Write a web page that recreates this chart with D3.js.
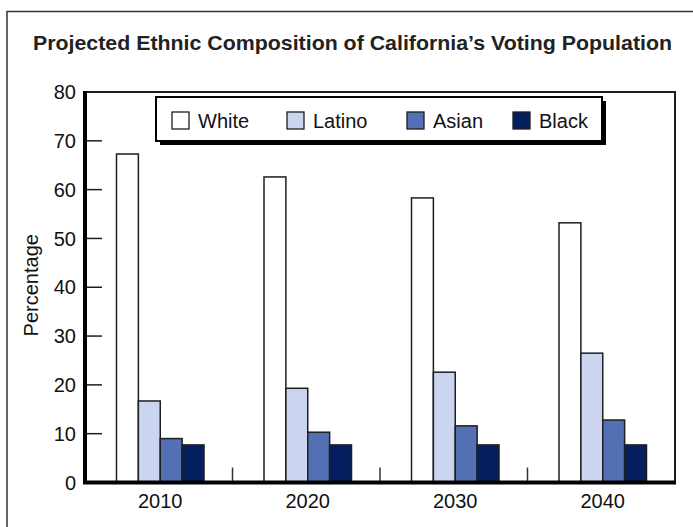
<!DOCTYPE html>
<html>
<head>
<meta charset="utf-8">
<script src="https://cdn.jsdelivr.net/npm/d3@7"></script>
<style>
  body { margin: 0; background: #fff; }
  svg { display: block; font-family: "Liberation Sans", Arial, Helvetica, sans-serif; }
</style>
</head>
<body>
<div id="chart"></div>
<script>
"use strict";

// DATA
const years = ["2010", "2020", "2030", "2040"];
const groups = ["White", "Latino", "Asian", "Black"];
const white = [67.3, 62.6, 58.3, 53.2];
const latino = [16.7, 19.3, 22.6, 26.5];
const asian = [9.0, 10.3, 11.6, 12.8];
const black = [7.7, 7.7, 7.7, 7.7];
const yTicks = [0, 10, 20, 30, 40, 50, 60, 70, 80];

const groupColors = ["#ffffff", "#cbd5f0", "#5470b4", "#031f5d"];
const seriesValues = [white, latino, asian, black];

const width = 693, height = 527;
const plot = { left: 85, right: 675, top: 92, bottom: 482.5 };
const ink = "#1e1e1e";
const fontSize = "20px";

const svg = d3.select("#chart").append("svg")
	.attr("width", width)
	.attr("height", height);

// outer frame (only top + left visible)
svg.append("path")
	.attr("d", `M7,${height} V11.5 H${width}`)
	.attr("fill", "none")
	.attr("stroke", "#333")
	.attr("stroke-width", 1.5);

// title
svg.append("text")
	.attr("x", 33)
	.attr("y", 50)
	.attr("textLength", 639)
	.attr("lengthAdjust", "spacingAndGlyphs")
	.style("font-size", "20.5px")
	.style("font-weight", "bold")
	.attr("fill", "#222")
	.text("Projected Ethnic Composition of California\u2019s Voting Population");

// scales
const x0 = d3.scaleBand().domain(years).range([plot.left, plot.right]).padding(0);
const x1 = d3.scaleBand().domain(groups).range([31.5, 31.5 + 87.5]).padding(0);
const y = d3.scaleLinear().domain([0, 80]).range([plot.bottom, plot.top]);

// plot frame top + right
svg.append("path")
	.attr("d", `M${plot.left},${plot.top} H${plot.right} V${plot.bottom}`)
	.attr("fill", "none")
	.attr("stroke", ink)
	.attr("stroke-width", 2);

// y ticks (inward) + labels
const yAxis = svg.append("g");
yAxis.selectAll("line.tick")
	.data(yTicks.filter((d) => d > 0 && d < 80))
	.enter().append("line")
	.attr("class", "tick")
	.attr("x1", plot.left)
	.attr("x2", plot.left + 17)
	.attr("y1", (d) => y(d))
	.attr("y2", (d) => y(d))
	.attr("stroke", ink)
	.attr("stroke-width", 1.5);

yAxis.selectAll("text")
	.data(yTicks)
	.enter().append("text")
	.attr("x", plot.left - 9)
	.attr("y", (d) => y(d))
	.attr("dy", "0.36em")
	.attr("text-anchor", "end")
	.style("font-size", fontSize)
	.attr("fill", "#111")
	.text((d) => d);

// y label
svg.append("text")
	.attr("transform", `translate(38,${(plot.top + plot.bottom) / 2 - 2}) rotate(-90)`)
	.attr("text-anchor", "middle")
	.style("font-size", fontSize)
	.attr("fill", "#111")
	.text("Percentage");

// category separators
svg.selectAll("line.sep")
	.data(years.slice(1))
	.enter().append("line")
	.attr("class", "sep")
	.attr("x1", (d) => x0(d))
	.attr("x2", (d) => x0(d))
	.attr("y1", plot.bottom - 15)
	.attr("y2", plot.bottom)
	.attr("stroke", "#333")
	.attr("stroke-width", 1.5);

// bars
const yearG = svg.selectAll("g.year")
	.data(years)
	.enter().append("g")
	.attr("class", "year")
	.attr("transform", (d) => `translate(${x0(d)},0)`);

yearG.selectAll("rect")
	.data((yr, yi) => groups.map((g, gi) => ({ group: g, gi: gi, value: seriesValues[gi][yi] })))
	.enter().append("rect")
	.attr("x", (d) => x1(d.group))
	.attr("width", x1.bandwidth())
	.attr("y", (d) => y(d.value))
	.attr("height", (d) => plot.bottom - y(d.value))
	.attr("fill", (d) => groupColors[d.gi])
	.attr("stroke", ink)
	.attr("stroke-width", 1.5);

// x labels
yearG.append("text")
	.attr("x", (d) => x1("Latino") + x1.bandwidth())
	.attr("y", plot.bottom + 25)
	.attr("text-anchor", "middle")
	.style("font-size", fontSize)
	.attr("fill", "#111")
	.text((d) => d);

// axes lines (thick left + bottom)
svg.append("path")
	.attr("d", `M${plot.left},${plot.top - 1} V${plot.bottom} H${plot.right + 1}`)
	.attr("fill", "none")
	.attr("stroke", "#000")
	.attr("stroke-width", 4);

// legend
const legend = svg.append("g");
const lg = { x: 156, y: 97, w: 446, h: 44 };
legend.append("rect")
	.attr("x", lg.x + 4).attr("y", lg.y + 4)
	.attr("width", lg.w).attr("height", lg.h)
	.attr("fill", "#000");
legend.append("rect")
	.attr("x", lg.x).attr("y", lg.y)
	.attr("width", lg.w).attr("height", lg.h)
	.attr("fill", "#fff")
	.attr("stroke", "#000")
	.attr("stroke-width", 2);

const legendX = [172, 287, 407, 513];
const items = legend.selectAll("g.item")
	.data(groups)
	.enter().append("g")
	.attr("class", "item")
	.attr("transform", (d, i) => `translate(${legendX[i]},${lg.y + 15})`);

items.append("rect")
	.attr("width", 17)
	.attr("height", 17)
	.attr("fill", (d, i) => groupColors[i])
	.attr("stroke", ink)
	.attr("stroke-width", 1.3);

items.append("text")
	.attr("x", 26)
	.attr("y", 15.5)
	.style("font-size", fontSize)
	.attr("fill", "#111")
	.text((d) => d);
</script>
</body>
</html>
